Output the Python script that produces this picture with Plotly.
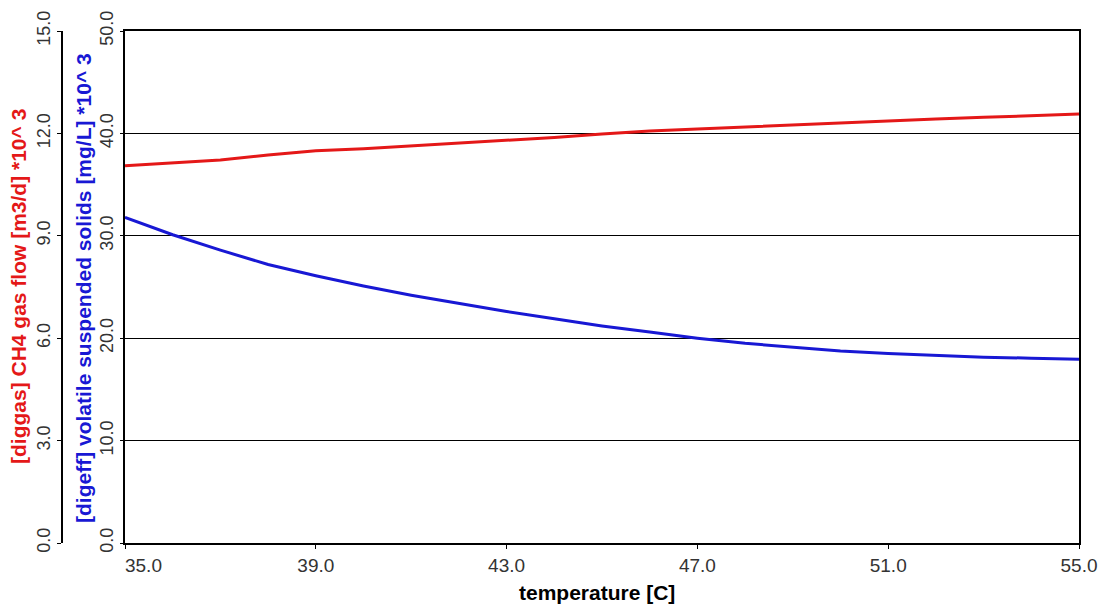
import plotly.graph_objects as go

temperature = [35, 36, 37, 38, 39, 40, 41, 42, 43, 44, 45, 46, 47, 48, 49, 50, 51, 52, 53, 54, 55]
ch4_gas_flow = [11.05, 11.13, 11.22, 11.37, 11.49, 11.55, 11.63, 11.72, 11.79, 11.88, 11.98, 12.07, 12.13,
                12.19, 12.26, 12.32, 12.37, 12.42, 12.47, 12.52, 12.57]
vss = [31.8, 30.1, 28.6, 27.2, 26.1, 25.1, 24.2, 23.4, 22.6, 21.9, 21.2, 20.6, 20.0,
       19.5, 19.1, 18.75, 18.5, 18.3, 18.15, 18.05, 17.95]

x_ticks = [35, 39, 43, 47, 51, 55]
x_ticktext = ["\u00a0" * 7 + "35.0", "39.0", "43.0", "47.0", "51.0", "55.0"]
blue_ticks = [0, 10, 20, 30, 40, 50]
red_ticks = [0, 3, 6, 9, 12, 15]

W, H = 1106, 607
ML, MR, MT, MB = 30, 27, 31, 64
pw = W - ML - MR
ph = H - MT - MB
plot_left = 125
red_axis_x = 62
dom0 = (plot_left - ML) / pw
redpos = (red_axis_x - ML) / pw

RED = "#e41818"
BLUE = "#1818d4"
font_family = "Liberation Sans, Arial, sans-serif"
xtickfont = dict(family=font_family, size=19, color="#333333")
ytickfont = dict(family=font_family, size=18, color="#333333")

fig = go.Figure()
fig.add_trace(go.Scatter(x=temperature, y=vss, mode="lines", line=dict(color=BLUE, width=3),
                         yaxis="y", showlegend=False))
fig.add_trace(go.Scatter(x=temperature, y=ch4_gas_flow, mode="lines", line=dict(color=RED, width=3),
                         yaxis="y2", showlegend=False))

fig.update_layout(
    width=W, height=H,
    margin=dict(l=ML, r=MR, t=MT, b=MB, autoexpand=False),
    paper_bgcolor="white", plot_bgcolor="white",
    xaxis=dict(domain=[dom0, 1], range=[35, 55], tickvals=x_ticks,
               ticktext=x_ticktext, showgrid=False, zeroline=False, automargin=False,
               showline=True, linecolor="black", linewidth=1.5, mirror=True,
               ticks="outside", ticklen=4, tickcolor="black", tickfont=xtickfont),
    yaxis=dict(range=[0, 50], tickvals=blue_ticks, ticktext=[f"{v:.1f}" for v in blue_ticks],
               tickangle=-90, showgrid=True, gridcolor="black", gridwidth=1, zeroline=False,
               automargin=False, showline=True, linecolor="black", linewidth=1.5, mirror=True,
               ticks="outside", ticklen=3, tickcolor="black", tickfont=ytickfont),
    yaxis2=dict(range=[0, 15], tickvals=red_ticks, ticktext=[f"{v:.1f}" for v in red_ticks],
                tickangle=-90, overlaying="y", anchor="free", position=redpos, side="left",
                showgrid=False, zeroline=False, automargin=False, showline=True,
                linecolor="black", linewidth=1.5,
                ticks="outside", ticklen=4, tickcolor="black", tickfont=ytickfont),
)

def px_x(px):
    return (px - ML) / pw

def px_y(py):
    return (H - MB - py) / ph

fig.add_annotation(text="<b>temperature [C]</b>", xref="paper", yref="paper",
                   x=px_x(597), y=px_y(592), showarrow=False,
                   font=dict(family=font_family, size=21, color="black"),
                   xanchor="center", yanchor="middle")
fig.add_annotation(text="<b>[diggas] CH4 gas flow [m3/d] *10^ 3</b>", xref="paper", yref="paper",
                   x=px_x(18), y=px_y(287), textangle=-90, showarrow=False,
                   font=dict(family=font_family, size=21, color=RED), xanchor="center", yanchor="middle")
fig.add_annotation(text="<b>[digeff] volatile suspended solids [mg/L] *10^ 3</b>", xref="paper", yref="paper",
                   x=px_x(83), y=px_y(288), textangle=-90, showarrow=False,
                   font=dict(family=font_family, size=21, color=BLUE), xanchor="center", yanchor="middle")

fig.write_html("out.html")
